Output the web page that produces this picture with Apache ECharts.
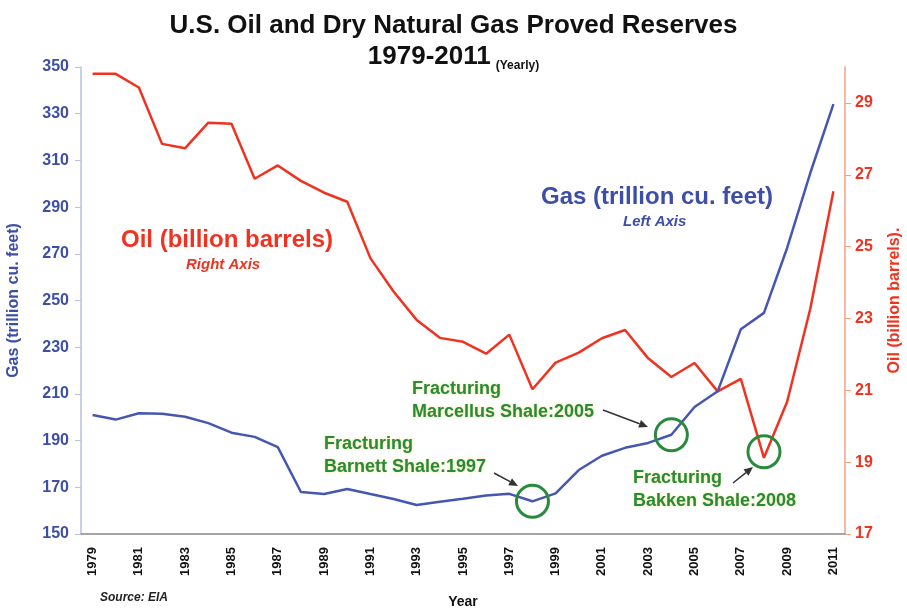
<!DOCTYPE html>
<html>
<head>
<meta charset="utf-8">
<script src="https://cdn.jsdelivr.net/npm/echarts@6/dist/echarts.min.js"></script>
<style>
html,body{margin:0;padding:0;background:#fff;}
#chart{width:907px;height:610px;}
</style>
</head>
<body>
<div id="chart"></div>
<script>
const years = ['1979','1980','1981','1982','1983','1984','1985','1986','1987','1988','1989','1990','1991','1992','1993','1994','1995','1996','1997','1998','1999','2000','2001','2002','2003','2004','2005','2006','2007','2008','2009','2010','2011'];
const gasTcf = [201.0,199.0,201.7,201.5,200.2,197.5,193.4,191.6,187.2,168.0,167.1,169.3,167.1,165.0,162.4,163.8,165.1,166.5,167.2,164.0,167.4,177.4,183.5,186.9,189.0,192.5,204.4,211.1,237.7,244.7,272.5,304.6,334.1];
const oilBbl = [29.81,29.81,29.43,27.86,27.74,28.45,28.42,26.89,27.26,26.83,26.50,26.25,24.68,23.75,22.96,22.46,22.35,22.02,22.55,21.03,21.77,22.05,22.45,22.68,21.89,21.37,21.76,20.97,21.32,19.12,20.68,23.27,26.54];
const gasTicks = [150,170,190,210,230,250,270,290,310,330,350];
const oilTicks = [17,19,21,23,25,27,29];
const gasCircles = [['1998',164.0],['2004',192.5]];
const oilCircles = [['2008',19.12]];

const SANS = '"Liberation Sans",Arial,sans-serif';
const BLUE = '#3d4ea6';
const RED = '#ef3320';
const GREEN = '#2a8a3c';

function arrow(x1,y1,x2,y2){
  const a = Math.atan2(y2-y1,x2-x1), L=9, W=4;
  const bx = x2 - L*Math.cos(a), by = y2 - L*Math.sin(a);
  const px = -Math.sin(a)*W, py = Math.cos(a)*W;
  return [
    {type:'line', shape:{x1:x1,y1:y1,x2:bx,y2:by}, style:{stroke:'#333',lineWidth:1.5}},
    {type:'polygon', shape:{points:[[x2,y2],[bx+px,by+py],[bx-px,by-py]]}, style:{fill:'#333'}}
  ];
}
const annStyle = {fill:GREEN, font:'bold 18px '+SANS, textShadowColor:'rgba(235,225,130,0.9)', textShadowBlur:3, lineHeight:23};

const chart = echarts.init(document.getElementById('chart'));
const circleStyle = {color:'rgba(0,0,0,0)', borderColor:GREEN, borderWidth:3};
chart.setOption({
  backgroundColor:'#fff',
  animation:false,
  title:{
    left:'center', top:5,
    text:'{a|U.S. Oil and Dry Natural Gas Proved Reserves}\n{a|1979-2011} {b|(Yearly)}',
    textStyle:{
      rich:{
        a:{fontFamily:SANS, fontWeight:'bold', fontSize:26, color:'#111', lineHeight:31},
        b:{fontFamily:SANS, fontWeight:'bold', fontSize:12, color:'#111', lineHeight:31, verticalAlign:'bottom'}
      }
    }
  },
  grid:{left:81, right:62, top:67, bottom:76, containLabel:false, outerBoundsMode:'none'},
  xAxis:{
    type:'category', data:years, boundaryGap:true,
    name:'Year', nameLocation:'middle', nameGap:61,
    nameTextStyle:{fontFamily:SANS, fontWeight:'bold', fontSize:14, color:'#111'},
    axisLine:{lineStyle:{color:'#888',width:1.5}},
    axisTick:{interval:1, length:5, lineStyle:{color:'#888'}},
    axisLabel:{interval:1, rotate:90, margin:13, fontFamily:SANS, fontWeight:'bold', fontSize:13, color:'#111'},
    splitLine:{show:false}
  },
  yAxis:[
    {
      type:'value', min:150, max:350, interval:20, position:'left',
      name:'Gas (trillion cu. feet)', nameLocation:'middle', nameGap:59, nameRotate:90,
      nameTextStyle:{fontFamily:SANS, fontWeight:'bold', fontSize:16, color:BLUE},
      axisLine:{show:true, lineStyle:{color:'#b9c0e6', width:1.5}},
      axisTick:{show:true, length:6, lineStyle:{color:'#b9c0e6'}},
      axisLabel:{margin:12, fontFamily:SANS, fontWeight:'bold', fontSize:16, color:BLUE},
      splitLine:{show:false}
    },
    {
      type:'value', min:17, max:30, position:'right',
      name:'Oil (billion barrels).', nameLocation:'middle', nameGap:42, nameRotate:90,
      nameTextStyle:{fontFamily:SANS, fontWeight:'bold', fontSize:16, color:RED},
      axisLine:{show:true, lineStyle:{color:'#f6a286', width:1.5}},
      axisTick:{show:true, length:6, lineStyle:{color:'#f6a286'}, customValues:oilTicks},
      axisLabel:{margin:10, fontFamily:SANS, fontWeight:'bold', fontSize:16, color:RED, customValues:oilTicks},
      splitLine:{show:false}
    }
  ],
  series:[
    {
      type:'line', name:'Gas', yAxisIndex:0, data:gasTcf, symbol:'none',
      lineStyle:{color:'#4657b2', width:2.5}, z:3,
      markPoint:{symbol:'circle', symbolSize:32, itemStyle:circleStyle, label:{show:false},
        data:gasCircles.map(c=>({coord:c}))}
    },
    {
      type:'line', name:'Oil', yAxisIndex:1, data:oilBbl, symbol:'none',
      lineStyle:{color:RED, width:2.5}, z:2,
      markPoint:{symbol:'circle', symbolSize:32, symbolOffset:[0,-6], itemStyle:circleStyle, label:{show:false},
        data:oilCircles.map(c=>({coord:c}))}
    }
  ],
  graphic:[
    {type:'text', left:121, top:228, style:{text:'Oil (billion barrels)', fill:RED, font:'bold 24px '+SANS}},
    {type:'text', left:186, top:257, style:{text:'Right Axis', fill:RED, font:'italic bold 15px '+SANS}},
    {type:'text', left:541, top:185, style:{text:'Gas (trillion cu. feet)', fill:BLUE, font:'bold 24px '+SANS}},
    {type:'text', left:623, top:214, style:{text:'Left Axis', fill:BLUE, font:'italic bold 15px '+SANS}},
    {type:'text', left:324, top:433, style:Object.assign({text:'Fracturing\nBarnett Shale:1997'}, annStyle)},
    {type:'text', left:412, top:378, style:Object.assign({text:'Fracturing\nMarcellus Shale:2005'}, annStyle)},
    {type:'text', left:633, top:467, style:Object.assign({text:'Fracturing\nBakken Shale:2008'}, annStyle)},
    ...arrow(494,473,518,486),
    ...arrow(603,410,648,427),
    ...arrow(733,483,753,467),
    {type:'text', left:100, top:592, style:{text:'Source: EIA', fill:'#222', font:'italic bold 12px '+SANS}}
  ]
});
</script>
</body>
</html>
